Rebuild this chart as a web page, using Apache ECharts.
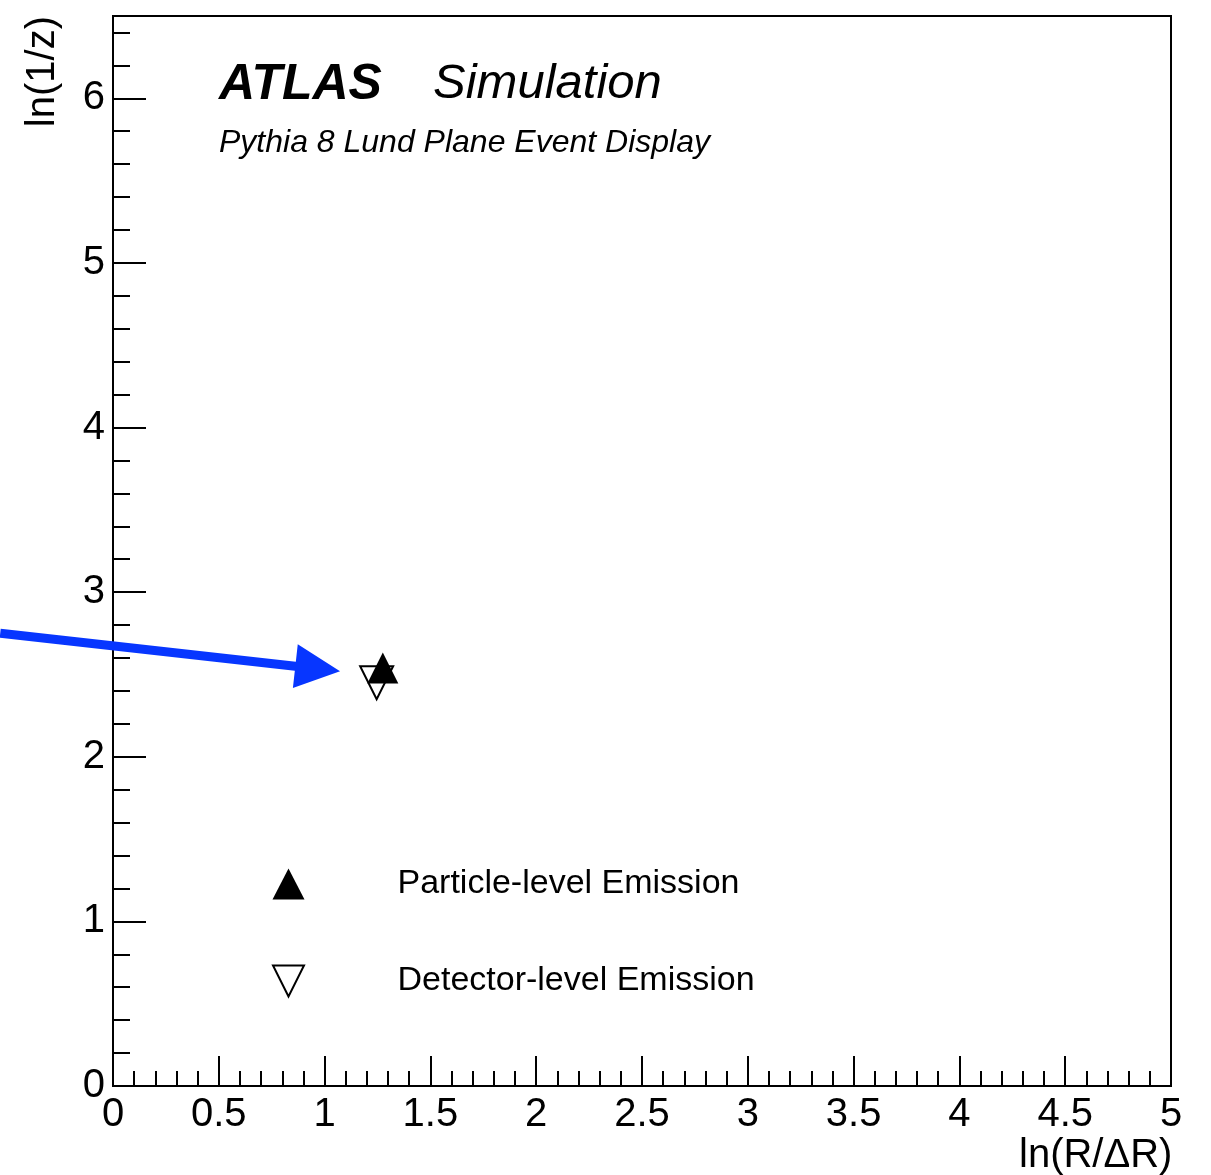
<!DOCTYPE html>
<html>
<head>
<meta charset="utf-8">
<script src="https://cdn.jsdelivr.net/npm/echarts@6/dist/echarts.min.js"></script>
<style>
  html, body { margin: 0; padding: 0; background: #fff; }
  #chart { width: 1211px; height: 1175px; }
</style>
</head>
<body>
<div id="chart"></div>
<script>
const FONT = 'Liberation Sans, Arial, Helvetica, sans-serif';

// emissions in the Lund plane: [ln(R/dR), ln(1/z)]
const particleLevel = [[1.275, 2.54]];
const detectorLevel = [[1.246, 2.45]];
const seriesNames = ['Particle-level Emission', 'Detector-level Emission'];

// axis ticks
const yMajorTicks = [0, 1, 2, 3, 4, 5, 6];
const yMinorTicks = [0.2, 0.4, 0.6, 0.8, 1.2, 1.4, 1.6, 1.8, 2.2, 2.4, 2.6, 2.8,
  3.2, 3.4, 3.6, 3.8, 4.2, 4.4, 4.6, 4.8, 5.2, 5.4, 5.6, 5.8, 6.2, 6.4];

// annotation arrow, in data coordinates
const arrowTail = [-0.533, 2.75];
const arrowTip = [1.073, 2.52];

const chart = echarts.init(document.getElementById('chart'), null, { renderer: 'canvas' });

const option = {
  animation: false,
  backgroundColor: '#fff',
  textStyle: { fontFamily: FONT },
  title: [
    {
      text: 'ATLAS', left: 219, top: 60, padding: 0,
      textStyle: { fontFamily: FONT, fontSize: 50, fontWeight: 'bold', fontStyle: 'italic', color: '#000' }
    },
    {
      text: 'Simulation', left: 433, top: 60, padding: 0,
      textStyle: { fontFamily: FONT, fontSize: 49, fontWeight: 'normal', fontStyle: 'italic', color: '#000' }
    },
    {
      text: 'Pythia 8 Lund Plane Event Display', left: 219, top: 127, padding: 0,
      textStyle: { fontFamily: FONT, fontSize: 32, fontWeight: 'normal', fontStyle: 'italic', color: '#000' }
    }
  ],
  legend: {
    data: seriesNames,
    orient: 'vertical',
    left: 272,
    top: 867,
    padding: 0,
    itemWidth: 32,
    itemHeight: 31,
    itemGap: 63,
    selectedMode: false,
    textStyle: { fontFamily: FONT, fontSize: 34, color: '#000', padding: [0, 0, 0, 88] }
  },
  grid: {
    left: 113,
    right: 40,
    top: 16,
    bottom: 89,
    outerBoundsMode: 'none',
    containLabel: false,
    show: true,
    borderColor: '#000',
    borderWidth: 2,
    backgroundColor: 'transparent'
  },
  xAxis: {
    type: 'value',
    min: 0,
    max: 5,
    interval: 0.5,
    name: 'ln(R/\u0394R)',
    nameLocation: 'end',
    nameGap: -152,
    nameTextStyle: { fontFamily: FONT, fontSize: 40, color: '#000', verticalAlign: 'top', padding: [50, 0, 0, 0] },
    axisLine: { show: true, onZero: false, lineStyle: { color: '#000', width: 2 } },
    axisTick: { show: true, inside: true, length: 30, lineStyle: { color: '#000', width: 2 } },
    minorTick: { show: true, splitNumber: 5, length: 15, lineStyle: { color: '#000', width: 2 } },
    axisLabel: { fontFamily: FONT, fontSize: 40, color: '#000', margin: 9 },
    splitLine: { show: false }
  },
  yAxis: [
    {
      type: 'value',
      min: 0,
      max: 6.5,
      interval: 1,
      name: 'ln(1/z)',
      nameLocation: 'end',
      nameGap: 0,
      nameRotate: 90,
      nameTextStyle: { fontFamily: FONT, fontSize: 40, color: '#000', align: 'right', verticalAlign: 'bottom', padding: [0, 0, 50, 0] },
      axisLine: { show: true, onZero: false, lineStyle: { color: '#000', width: 2 } },
      axisTick: { show: true, inside: true, length: 33, customValues: yMajorTicks, lineStyle: { color: '#000', width: 2 } },
      axisLabel: { fontFamily: FONT, fontSize: 40, color: '#000', margin: 8, customValues: yMajorTicks },
      splitLine: { show: false }
    },
    {
      type: 'value',
      position: 'left',
      min: 0,
      max: 6.5,
      axisLine: { show: false },
      axisTick: { show: true, inside: true, length: 17, customValues: yMinorTicks, lineStyle: { color: '#000', width: 2 } },
      axisLabel: { show: false },
      splitLine: { show: false }
    }
  ],
  series: [
    {
      name: seriesNames[1],
      type: 'scatter',
      data: detectorLevel,
      symbol: 'path://M0,0L2,0L1,2Z',
      symbolSize: [33, 33],
      itemStyle: { color: '#fff', borderColor: '#000', borderWidth: 2, opacity: 1 },
      z: 2
    },
    {
      name: seriesNames[0],
      type: 'scatter',
      data: particleLevel,
      symbol: 'triangle',
      symbolSize: [31, 31],
      itemStyle: { color: '#000', opacity: 1 },
      z: 3
    }
  ]
};

chart.setOption(option);

// blue arrow pointing at the emissions
const tail = chart.convertToPixel({ gridIndex: 0 }, arrowTail);
const tip = chart.convertToPixel({ gridIndex: 0 }, arrowTip);
const dx = tip[0] - tail[0];
const dy = tip[1] - tail[1];
const len = Math.sqrt(dx * dx + dy * dy);
const ux = dx / len, uy = dy / len;
const nx = -uy, ny = ux;
const shaftHalf = 4.5, headHalf = 22, headLen = 45;
const bx = tip[0] - ux * headLen, by = tip[1] - uy * headLen;

chart.setOption({
  graphic: [
    {
      type: 'polygon',
      z: 100,
      shape: {
        points: [
          [tail[0] + nx * shaftHalf, tail[1] + ny * shaftHalf],
          [bx + nx * shaftHalf, by + ny * shaftHalf],
          [bx + nx * headHalf, by + ny * headHalf],
          tip,
          [bx - nx * headHalf, by - ny * headHalf],
          [bx - nx * shaftHalf, by - ny * shaftHalf],
          [tail[0] - nx * shaftHalf, tail[1] - ny * shaftHalf]
        ]
      },
      style: { fill: '#0736ff' }
    }
  ]
});
</script>
</body>
</html>
